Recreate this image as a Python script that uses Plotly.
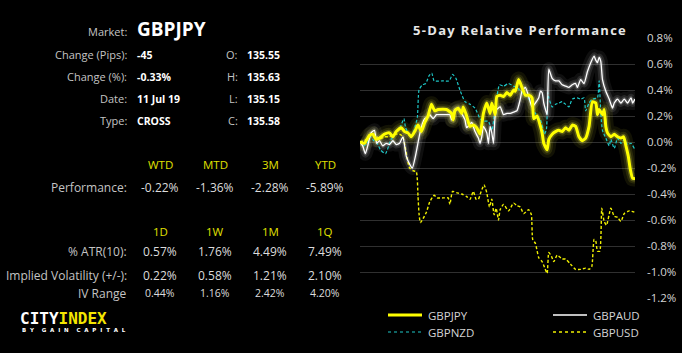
import plotly.graph_objects as go

W, H = 682, 353

# ---------------- data ----------------
series_names = ["GBPJPY", "GBPAUD", "GBPNZD", "GBPUSD"]

jpy_t = [0.0, 1.3, 2.8, 3.8, 4.8, 5.8, 7.3, 8.8, 9.8, 10.8, 12.3, 13.3, 14.3, 15.3, 16.3, 17.3, 18.3, 19.3,
         20.3, 21.3, 22.3, 23.3, 25.8, 27.3, 27.8, 28.3, 29.3, 30.3, 30.8, 31.8, 32.8, 33.8, 34.8, 35.8,
         36.8, 37.8, 38.8, 39.3, 40.3, 40.8, 41.8, 42.8, 43.8, 44.8, 45.8, 46.3, 47.3, 48.3, 49.3, 50.3,
         51.3, 51.8, 52.8, 53.8, 54.3, 54.8, 55.8, 56.3, 57.3, 58.3, 59.3, 60.3, 61.3, 62.3, 63.3, 64.3,
         65.3, 66.3, 67.3, 68.3, 69.3, 70.3, 70.8, 71.3, 72.3, 72.8, 73.3, 73.8, 74.8, 75.8, 76.8, 77.8,
         78.6, 79.3, 80.0, 80.6, 81.3, 82.0]
jpy_v = [0.00, -0.01, 0.05, 0.06, 0.02, 0.03, 0.06, 0.07, 0.04, 0.08, 0.11, 0.08, 0.07, 0.04, 0.08, 0.13, 0.08, 0.15,
         0.20, 0.29, 0.24, 0.25, 0.25, 0.22, 0.17, 0.24, 0.26, 0.22, 0.27, 0.20, 0.12, 0.13, 0.11, 0.06,
         0.22, 0.30, 0.22, 0.30, 0.21, 0.35, 0.36, 0.35, 0.38, 0.36, 0.40, 0.39, 0.48, 0.42, 0.36, 0.36,
         0.34, 0.18, 0.20, 0.12, 0.07, -0.01, -0.06, 0.02, 0.06, 0.08, 0.09, 0.08, 0.11, 0.09, 0.13, 0.12,
         0.04, 0.01, 0.03, 0.12, 0.31, 0.30, 0.21, 0.25, 0.21, 0.25, 0.12, 0.07, 0.04, 0.06, 0.04, 0.03,
         0.04, -0.03, -0.11, -0.21, -0.28, -0.28]

aud_t = [0.0, 0.8, 1.6, 2.3, 3.3, 4.3, 5.0, 5.8, 6.8, 7.8, 8.8, 9.8, 10.8, 11.8, 12.8, 13.8, 14.8, 15.6,
         16.6, 17.8, 18.6, 19.3, 20.0, 20.8, 21.8, 22.8, 23.8, 25.8, 26.8, 27.3, 28.3, 29.3, 30.3, 31.3,
         31.8, 33.3, 34.3, 35.3, 35.8, 36.3, 36.8, 37.8, 38.3, 38.8, 39.3, 39.8, 40.3, 40.8, 41.8, 42.8,
         43.8, 44.8, 45.8, 46.8, 47.8, 48.3, 49.3, 50.3, 51.3, 52.3, 53.3, 53.8, 54.3, 54.8, 55.3, 55.8,
         56.3, 57.3, 58.3, 59.3, 60.3, 61.3, 62.3, 63.3, 64.3, 64.8, 65.8, 66.8, 67.8, 68.8, 69.8, 70.3,
         70.8, 71.3, 71.8, 72.3, 73.3, 74.3, 75.3, 75.8, 76.8, 77.8, 78.8, 79.8, 80.8, 81.3, 82.0]
aud_v = [0.00, -0.03, -0.09, -0.03, 0.07, 0.09, -0.01, 0.01, -0.03, -0.01, -0.02, 0.01, -0.02, -0.01, 0.04, -0.11, -0.17, -0.20,
         -0.10, 0.06, 0.14, 0.18, 0.19, 0.21, 0.18, 0.21, 0.21, 0.21, 0.21, 0.17, 0.25, 0.26, 0.22, 0.17,
         0.11, 0.15, 0.08, 0.03, -0.01, 0.04, 0.12, 0.07, -0.01, 0.12, 0.07, -0.01, 0.20, 0.25, 0.27, 0.21,
         0.22, 0.22, 0.23, 0.24, 0.33, 0.39, 0.42, 0.35, 0.27, 0.30, 0.34, 0.39, 0.38, 0.30, 0.25, 0.21,
         0.56, 0.49, 0.47, 0.47, 0.44, 0.43, 0.42, 0.44, 0.45, 0.42, 0.48, 0.45, 0.54, 0.61, 0.66, 0.63,
         0.61, 0.65, 0.62, 0.48, 0.39, 0.33, 0.26, 0.30, 0.33, 0.30, 0.33, 0.30, 0.34, 0.30, 0.33]

nzd_t = [0.0, 1.1, 2.1, 3.1, 4.1, 5.1, 6.1, 7.6, 9.1, 10.6, 12.1, 13.1, 13.6, 15.1, 16.1, 17.1, 17.6, 18.6,
         19.6, 20.6, 21.4, 22.1, 24.6, 26.6, 27.6, 28.6, 29.8, 31.3, 32.8, 34.3, 35.8, 36.8, 38.3, 39.3,
         40.3, 41.6, 42.8, 44.3, 45.8, 46.8, 48.3, 49.8, 50.8, 52.3, 53.8, 55.0, 55.6, 56.0, 56.3, 57.3,
         58.3, 59.3, 60.3, 61.3, 62.3, 63.3, 64.8, 65.8, 66.8, 67.3, 68.3, 69.3, 70.8, 71.3, 71.8, 72.3,
         73.3, 74.3, 74.8, 75.8, 76.8, 77.8, 78.8, 79.8, 80.8, 81.8]
nzd_v = [0.00, -0.03, -0.01, 0.04, 0.01, -0.01, -0.06, -0.09, 0.01, 0.07, 0.12, 0.18, 0.11, 0.04, 0.09, 0.19, 0.40, 0.44,
         0.45, 0.51, 0.53, 0.47, 0.47, 0.47, 0.52, 0.49, 0.40, 0.31, 0.29, 0.26, 0.18, 0.16, 0.16, 0.09,
         0.25, 0.44, 0.43, 0.45, 0.43, 0.42, 0.38, 0.35, 0.31, 0.22, 0.17, 0.06, 0.10, 0.38, 0.34, 0.27,
         0.29, 0.30, 0.31, 0.29, 0.27, 0.33, 0.34, 0.33, 0.34, 0.24, 0.30, 0.33, 0.34, 0.47, 0.22, 0.09,
         0.03, -0.03, 0.02, -0.05, 0.03, -0.01, 0.02, -0.02, -0.01, -0.05]

usd_t = [0.0, 1.3, 2.8, 4.3, 5.8, 7.3, 8.8, 10.3, 11.8, 12.8, 13.4, 14.1, 14.8, 15.8, 16.8, 17.3, 17.6, 18.0,
         18.8, 19.8, 20.8, 22.1, 23.0, 24.8, 26.3, 26.8, 27.6, 28.8, 30.3, 31.8, 32.8, 33.8, 34.6, 35.3,
         36.0, 37.0, 37.8, 38.6, 39.3, 40.0, 40.6, 41.3, 41.8, 42.8, 44.3, 45.8, 46.8, 47.8, 48.8, 50.3,
         51.1, 51.5, 52.3, 53.3, 54.3, 55.1, 55.8, 56.3, 57.1, 57.8, 58.8, 60.3, 61.3, 62.8, 64.3, 65.8,
         67.3, 68.3, 69.1, 69.8, 70.3, 70.8, 71.5, 72.1, 72.8, 73.5, 74.8, 75.8, 76.8, 77.8, 78.8, 80.3, 81.8]
usd_v = [0.00, 0.01, 0.04, 0.06, 0.02, 0.04, 0.04, 0.06, 0.06, 0.04, -0.03, -0.13, -0.20, -0.22, -0.23, -0.42, -0.55, -0.62,
         -0.59, -0.54, -0.46, -0.41, -0.43, -0.43, -0.43, -0.48, -0.38, -0.39, -0.40, -0.42, -0.44, -0.38, -0.44, -0.44,
         -0.39, -0.33, -0.39, -0.50, -0.44, -0.56, -0.51, -0.60, -0.52, -0.48, -0.53, -0.47, -0.49, -0.50, -0.55, -0.52,
         -0.56, -0.75, -0.78, -0.89, -0.92, -0.97, -1.01, -0.85, -0.88, -0.92, -0.87, -0.90, -0.90, -0.94, -0.98, -0.98,
         -0.97, -0.98, -0.96, -0.75, -0.76, -0.84, -0.84, -0.51, -0.61, -0.64, -0.51, -0.57, -0.58, -0.61, -0.55, -0.53, -0.54]

y_ticks = [0.8, 0.6, 0.4, 0.2, 0.0, -0.2, -0.4, -0.6, -0.8, -1.0, -1.2]
y_tick_labels = ["0.8%", "0.6%", "0.4%", "0.2%", "0.0%", "-0.2%", "-0.4%", "-0.6%", "-0.8%", "-1.0%", "-1.2%"]

market = "GBPJPY"
info_labels = ["Change (Pips):", "Change (%):", "Date:", "Type:"]
info_values = ["-45", "-0.33%", "11 Jul 19", "CROSS"]
ohlc_labels = ["O:", "H:", "L:", "C:"]
ohlc_values = ["135.55", "135.63", "135.15", "135.58"]
perf_periods = ["WTD", "MTD", "3M", "YTD"]
perf_values = ["-0.22%", "-1.36%", "-2.28%", "-5.89%"]
vol_periods = ["1D", "1W", "1M", "1Q"]
atr_values = ["0.57%", "1.76%", "4.49%", "7.49%"]
iv_values = ["0.22%", "0.58%", "1.21%", "2.10%"]
ivr_values = ["0.44%", "1.16%", "2.42%", "4.20%"]
chart_title = "5-Day Relative Performance"
logo_a, logo_b, logo_sub = "CITY", "INDEX", "BY GAIN CAPITAL"

# ---------------- styles ----------------
YEL = "#ffff00"
CYAN = "#1ec8c8"
HEAD = "#e0e000"
LBL = "#c4c4c4"
FONT = "Open Sans"

fig = go.Figure()

series = {
    "GBPJPY": (jpy_t, jpy_v),
    "GBPAUD": (aud_t, aud_v),
    "GBPNZD": (nzd_t, nzd_v),
    "GBPUSD": (usd_t, usd_v),
}
style = {
    "GBPJPY": dict(color=YEL, width=3, dash="solid"),
    "GBPAUD": dict(color="#ffffff", width=1.3, dash="solid"),
    "GBPNZD": dict(color=CYAN, width=1.2, dash="3px,2px"),
    "GBPUSD": dict(color="#f0f000", width=1.4, dash="3px,2px"),
}
glow = {
    "GBPJPY": [(16, 0.07, "#ffff40"), (10, 0.10, "#ffff40"), (6, 0.22, "#ffff40")],
    "GBPAUD": [(14, 0.06, "#ffffff"), (8, 0.10, "#ffffff"), (4, 0.18, "#ffffff")],
}

# glows
for name in ["GBPAUD", "GBPJPY"]:
    t, v = series[name]
    for w, op, col in glow[name]:
        fig.add_trace(go.Scatter(x=t, y=v, mode="lines", opacity=op,
                                 line=dict(color=col, width=w, shape="spline", smoothing=0.5),
                                 hoverinfo="skip", showlegend=False))

for name in ["GBPUSD", "GBPNZD", "GBPAUD", "GBPJPY"]:
    t, v = series[name]
    fig.add_trace(go.Scatter(x=t, y=v, mode="lines", name=name,
                             line=dict(shape="spline", smoothing=0.5, **style[name]),
                             showlegend=False))

# ---------------- layout ----------------
X0, X1 = 360, 635          # plot area in px
YT, YB = 38, 298
fig.update_layout(
    width=W, height=H,
    margin=dict(l=0, r=0, t=0, b=0, autoexpand=False),
    paper_bgcolor="#000000", plot_bgcolor="#000000",
    font=dict(family=FONT, color=LBL, size=12),
    xaxis=dict(domain=[X0 / W, X1 / W], range=[0, 82], showgrid=False, zeroline=False,
               showticklabels=False, showline=False, fixedrange=True, automargin=False),
    yaxis=dict(domain=[1 - YB / H, 1 - YT / H], range=[-1.2, 0.8], side="right",
               tickvals=y_ticks, ticktext=y_tick_labels, showgrid=True,
               gridcolor="#303030", gridwidth=1, zeroline=False, showline=False,
               ticks="", ticklabelstandoff=11, automargin=False,
               tickfont=dict(family=FONT, size=11.5, color="#d4d4d4")),
    showlegend=False,
)

ann = []


def txt(px, py, s, size=12, color=LBL, bold=False, xa="left", family=FONT):
    ann.append(dict(x=px / W, y=1 - py / H, xref="paper", yref="paper", text=(f"<b>{s}</b>" if bold else s),
                    showarrow=False, xanchor=xa, yanchor="middle",
                    font=dict(size=size, color=color, family=family)))


# title (letter spaced)
txt(628, 30, "\u200a".join(chart_title), size=13, color="#e6e6e6", bold=True, xa="right")

# market block
txt(129, 31, "Market:", 11, LBL, xa="right")
txt(135, 29, market, 19, "#ffffff", bold=True)
rows_y = [55, 77, 99, 121]
for i, y in enumerate(rows_y):
    txt(129, y, info_labels[i], 11, LBL, xa="right")
    txt(135, y, info_values[i], 10.5, "#ffffff", bold=True)
    txt(240, y, ohlc_labels[i], 11, LBL, xa="right")
    txt(245, y, ohlc_values[i], 10.5, "#ffffff", bold=True)

cols_x = [160, 215, 270, 325]
for i, cx in enumerate(cols_x):
    txt(cx, 165, perf_periods[i], 11.5, HEAD, xa="center")
    txt(cx, 187, perf_values[i], 12, "#dcdcdc", xa="center")
    txt(cx, 231, vol_periods[i], 11.5, HEAD, xa="center")
    txt(cx, 252, atr_values[i], 12, "#dcdcdc", xa="center")
    txt(cx, 275, iv_values[i], 12, "#dcdcdc", xa="center")
    txt(cx, 293, ivr_values[i], 10.5, "#dcdcdc", xa="center")
txt(129, 187, "Performance:", 12, LBL, xa="right")
txt(129, 252, "% ATR(10):", 12, LBL, xa="right")
txt(129, 275, "Implied Volatility (+/-):", 12, LBL, xa="right")
txt(129, 293, "IV Range", 12, LBL, xa="right")

# logo
ann.append(dict(x=18 / W, y=1 - 318 / H, xref="paper", yref="paper", showarrow=False, xanchor="left",
                yanchor="middle",
                text=f"<b>{logo_a}<span style='color:#f5e600'>{logo_b}</span></b>",
                font=dict(size=16, color="#ffffff", family="DejaVu Sans Mono")))
gap = "\u2002\u2009"
sub = (gap * 2).join(gap.join(w) for w in logo_sub.split(" "))
txt(20, 330, f"<b>{sub}</b>", 5.5, "#ffffff", family="DejaVu Sans")

# legend (manual)
leg_pos = {"GBPJPY": (388, 315), "GBPAUD": (553, 315), "GBPNZD": (388, 332), "GBPUSD": (553, 332)}
shapes = []
for name in series_names:
    lx, ly = leg_pos[name]
    st = style[name]
    dash = "solid" if st["dash"] == "solid" else "dot"
    shapes.append(dict(type="line", xref="paper", yref="paper", x0=lx / W, x1=(lx + 34) / W,
                       y0=1 - ly / H, y1=1 - ly / H,
                       line=dict(color=st["color"], width=st["width"], dash=dash)))
    txt(lx + 38, ly, name, 11.5, "#d4d4d4")

fig.update_layout(annotations=ann, shapes=shapes)
fig.write_html("out.html")
